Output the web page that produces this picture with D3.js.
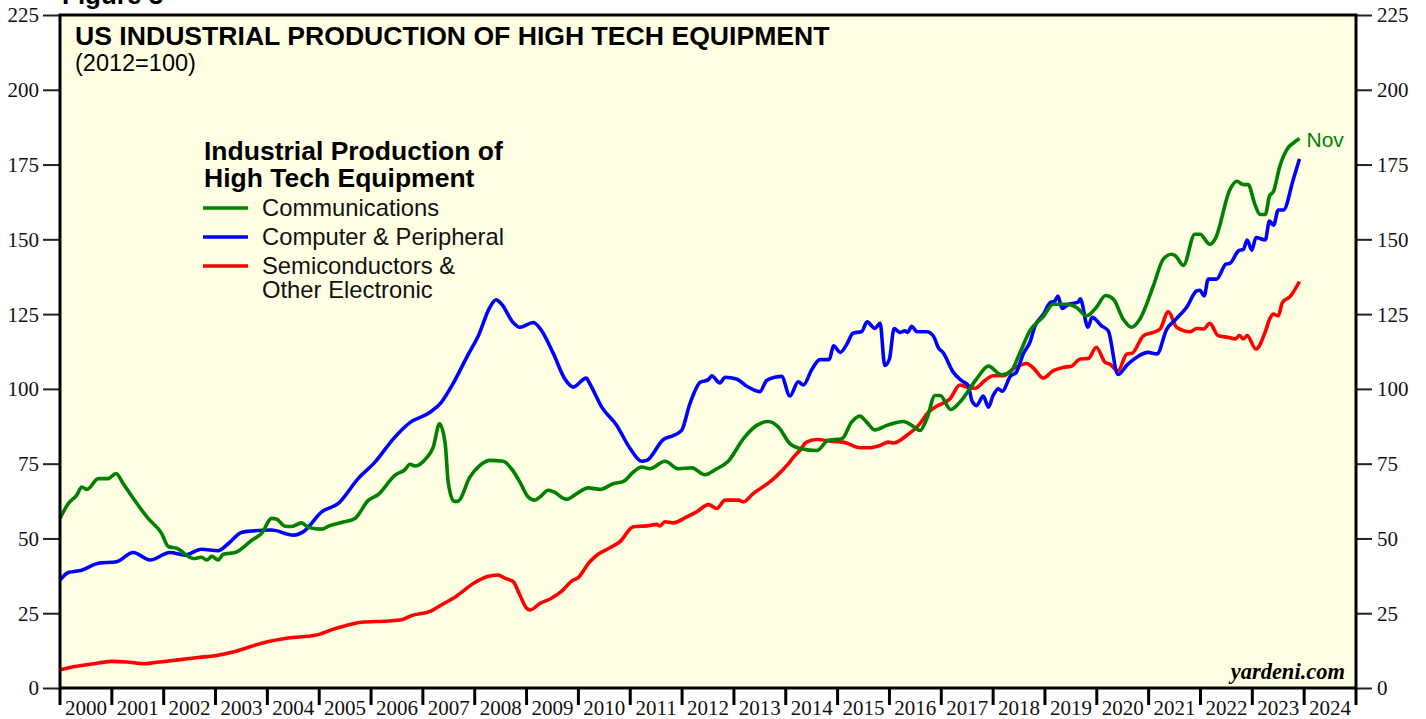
<!DOCTYPE html>
<html>
<head>
<meta charset="utf-8">
<script src="https://cdn.jsdelivr.net/npm/d3@7"></script>
<style>
  html, body { margin: 0; padding: 0; background: #fff; }
  svg { display: block; }
</style>
</head>
<body>
<div id="chart"></div>
<script>
// Values: [year, index 2012=100]
const communications = [
  [2000.00,56.7],[2000.16,61.7],[2000.32,64.4],[2000.42,67.2],[2000.52,66.4],[2000.74,70],[2000.93,70],
  [2001.08,71.7],[2001.22,68.3],[2001.35,65],[2001.70,56.7],[2001.96,51.7],[2002.09,47.3],[2002.25,46.7],
  [2002.57,43.3],[2002.73,43.7],[2002.83,42.8],[2002.93,44],[2003.05,42.8],[2003.15,44.7],[2003.38,45.3],
  [2003.70,49.4],[2003.89,51.7],[2004.08,56.7],[2004.18,56.4],[2004.34,54.1],[2004.47,54],[2004.66,55.2],
  [2004.79,53.7],[2005.05,53.1],[2005.18,54.1],[2005.43,55.3],[2005.69,56.7],[2005.95,62.8],[2006.14,64.7],
  [2006.46,71.1],[2006.66,73.1],[2006.75,74.8],[2006.85,74.2],[2007.07,76.9],[2007.20,80.5],[2007.32,88.3],
  [2007.43,81.7],[2007.49,68.6],[2007.60,62.4],[2007.67,62.4],[2007.91,70.6],[2008.10,74.4],[2008.29,76.1],
  [2008.55,75.8],[2008.71,73.3],[2008.87,68.9],[2009.03,63.9],[2009.16,62.8],[2009.26,63.9],[2009.42,66.1],
  [2009.52,65.6],[2009.77,63.1],[2009.97,65],[2010.19,66.9],[2010.42,66.4],[2010.67,68.3],[2010.87,69.1],
  [2011.06,72.2],[2011.22,73.9],[2011.38,73.3],[2011.67,75.8],[2011.93,73.3],[2012.19,73.6],[2012.44,71.3],
  [2012.67,73.3],[2012.89,75.8],[2013.18,83.3],[2013.44,87.8],[2013.66,89.1],[2013.86,87.2],[2014.08,81.7],
  [2014.30,80],[2014.60,79.4],[2014.82,82.8],[2015.08,83.3],[2015.27,88.9],[2015.43,90.9],[2015.56,88.9],
  [2015.72,86.3],[2015.95,87.8],[2016.27,89.1],[2016.43,87.8],[2016.59,86.1],[2016.72,90],[2016.88,97.8],
  [2016.98,97.8],[2017.18,93.1],[2017.36,95.6],[2017.68,103.3],[2017.91,107.6],[2018.16,104.7],[2018.33,105.6],
  [2018.52,112.2],[2018.71,119.5],[2018.97,124.2],[2019.16,128.3],[2019.42,128.3],[2019.61,127.2],[2019.80,124.4],
  [2019.99,127.2],[2020.17,131.2],[2020.32,130],[2020.51,123.3],[2020.67,120.6],[2020.83,123.3],[2021.09,134.4],
  [2021.28,143.3],[2021.44,145],[2021.52,144.4],[2021.67,141.3],[2021.89,151.7],[2021.99,151.7],[2022.18,148.3],
  [2022.28,150],[2022.57,166.7],[2022.70,169.4],[2022.83,168.3],[2022.92,168.3],[2023.05,161.7],[2023.15,158.3],
  [2023.25,158.3],[2023.33,164.4],[2023.41,166.1],[2023.53,174.4],[2023.69,180.6],[2023.79,182.2],[2023.91,183.7]
];

const computers = [
  [2000.00,36.1],[2000.16,38.6],[2000.42,39.4],[2000.74,41.7],[2001.09,42.2],[2001.41,45.3],[2001.74,42.8],
  [2002.12,45.3],[2002.41,44.4],[2002.73,46.4],[2003.05,45.9],[2003.25,48.3],[2003.50,52],[2003.70,52.5],
  [2004.08,52.8],[2004.50,51.1],[2004.69,52.2],[2005.05,58.9],[2005.37,61.7],[2005.75,70],[2006.08,75.6],
  [2006.43,83.3],[2006.75,88.7],[2007.14,92.2],[2007.36,95.6],[2007.56,101.1],[2007.88,111.7],[2008.07,117.8],
  [2008.29,127.2],[2008.41,129.8],[2008.52,128.3],[2008.74,122.2],[2008.87,120.6],[2009.13,122.2],[2009.26,120.2],
  [2009.52,111.7],[2009.74,103.3],[2009.90,100.6],[2010.15,103.6],[2010.22,101.7],[2010.45,93.9],[2010.74,87.8],
  [2011.00,80],[2011.22,75.8],[2011.32,76.1],[2011.64,83.1],[2011.83,84.4],[2011.99,86.1],[2012.15,95],
  [2012.35,102.2],[2012.51,103.1],[2012.57,104.4],[2012.73,102],[2012.83,103.9],[2013.05,103.3],[2013.25,100.9],
  [2013.50,99.1],[2013.63,102.8],[2013.79,103.9],[2013.92,104.2],[2014.08,97.6],[2014.24,102.4],[2014.34,101.3],
  [2014.50,106.4],[2014.66,109.8],[2014.84,109.8],[2014.92,114.4],[2015.05,112.2],[2015.18,115],[2015.30,118.7],
  [2015.46,119.1],[2015.57,122.4],[2015.72,120.2],[2015.82,122],[2015.91,107.8],[2016.00,110],[2016.09,120.2],
  [2016.20,118.9],[2016.30,119.4],[2016.35,118.9],[2016.43,120.9],[2016.53,119.1],[2016.72,119.1],[2016.85,117.6],
  [2016.94,113.9],[2017.04,112],[2017.23,105.6],[2017.39,102.8],[2017.52,101.1],[2017.59,96.1],[2017.68,94.4],
  [2017.81,97.6],[2017.91,93.9],[2018.00,97.8],[2018.10,100],[2018.18,99.2],[2018.33,104.2],[2018.45,105.6],
  [2018.58,111.7],[2018.71,115.6],[2018.81,121.1],[2018.97,125],[2019.10,128.8],[2019.19,129.4],[2019.25,131],
  [2019.33,126.9],[2019.46,128.3],[2019.64,129],[2019.68,130.1],[2019.83,120.6],[2019.91,123.9],[2020.09,121.1],
  [2020.22,119.4],[2020.41,104.8],[2020.59,108.1],[2020.77,110.6],[2020.99,112.2],[2021.16,111.7],[2021.35,120],
  [2021.51,123],[2021.73,127.2],[2021.93,132.8],[2021.99,133],[2022.07,131.1],[2022.15,136.7],[2022.31,136.7],
  [2022.49,141.7],[2022.57,142],[2022.73,146.1],[2022.83,146.7],[2022.90,149.8],[2022.99,146.4],[2023.07,150.6],
  [2023.25,149.8],[2023.33,156.1],[2023.41,154.7],[2023.50,159.8],[2023.60,159.8],[2023.79,170],[2023.91,176.9]
];

const semiconductors = [
  [2000.00,6.1],[2000.29,7.2],[2000.61,8],[2001.00,8.9],[2001.29,8.7],[2001.61,8.1],[2001.87,8.6],
  [2002.28,9.4],[2002.67,10.2],[2002.99,10.8],[2003.38,12.2],[2003.89,15],[2004.40,16.7],[2004.92,17.6],
  [2005.30,19.8],[2005.82,22],[2006.33,22.4],[2006.59,22.8],[2006.78,24.2],[2007.14,25.6],[2007.38,28],
  [2007.64,30.6],[2007.98,35],[2008.23,37.2],[2008.45,37.8],[2008.58,36.7],[2008.74,35.6],[2008.87,31.1],
  [2009.00,26.7],[2009.07,26.1],[2009.26,28.3],[2009.48,30],[2009.68,32.4],[2009.90,36.1],[2009.98,36.7],
  [2010.22,42.2],[2010.38,44.7],[2010.61,46.9],[2010.80,48.9],[2011.06,53.9],[2011.32,54.2],[2011.51,54.7],
  [2011.57,54.2],[2011.67,55.6],[2011.83,55.2],[2012.09,57.2],[2012.28,58.9],[2012.51,61.3],[2012.67,60],
  [2012.83,62.8],[2013.09,62.8],[2013.18,62.2],[2013.37,65],[2013.73,69.4],[2013.89,72],[2014.08,75.6],
  [2014.15,77.2],[2014.27,79.4],[2014.40,82.2],[2014.60,83.1],[2014.92,82.4],[2015.11,82.2],[2015.43,80.3],
  [2015.59,80.3],[2015.82,81.1],[2015.98,82.2],[2016.08,81.9],[2016.33,84.4],[2016.56,87.8],[2016.75,92.2],
  [2016.91,94.2],[2017.17,96.7],[2017.36,101.3],[2017.49,100.6],[2017.65,100.2],[2017.84,102.8],[2018.00,104.4],
  [2018.20,104.4],[2018.39,106.7],[2018.65,108.5],[2018.78,106.9],[2018.97,103.6],[2019.16,106.1],[2019.35,107.2],
  [2019.51,107.6],[2019.68,110],[2019.84,110.2],[2019.99,113.9],[2020.16,108.9],[2020.25,108.3],[2020.41,106.1],
  [2020.58,111.7],[2020.68,111.9],[2020.90,117.8],[2021.09,118.9],[2021.22,120],[2021.38,125.8],[2021.54,120.6],
  [2021.80,119.1],[2021.93,120.2],[2022.06,120],[2022.18,121.9],[2022.34,117.8],[2022.54,117.2],[2022.67,116.7],
  [2022.75,117.8],[2022.83,116.7],[2022.90,117.8],[2023.07,113.3],[2023.25,119.1],[2023.34,123.6],[2023.41,125],
  [2023.50,124.4],[2023.58,128.9],[2023.73,130.9],[2023.91,135.9]
];

const yTicks = [0, 25, 50, 75, 100, 125, 150, 175, 200, 225];
const years = [2000, 2001, 2002, 2003, 2004, 2005, 2006, 2007, 2008, 2009, 2010, 2011, 2012,
  2013, 2014, 2015, 2016, 2017, 2018, 2019, 2020, 2021, 2022, 2023, 2024];
const seriesNames = ['Communications', 'Computer & Peripheral', 'Semiconductors &|Other Electronic'];
const seriesColors = ['#008000', '#0000ff', '#ff0000'];

const W = 1426, H = 719;
const plotLeft = 60, plotRight = 1356, plotTop = 15, plotBottom = 688;
const SANS = '"Liberation Sans", Arial, sans-serif';
const SERIF = '"Liberation Serif", "Times New Roman", serif';

const svg = d3.select('#chart').append('svg')
  .attr('width', W).attr('height', H);

const x = d3.scaleLinear().domain([2000, 2025]).range([plotLeft, plotRight]);
const y = d3.scaleLinear().domain([0, 225]).range([plotBottom, plotTop]);

// cut-off figure caption above the frame
svg.append('text')
  .attr('x', 62).attr('y', 4)
  .attr('font-family', SANS).attr('font-weight', 'bold').attr('font-size', 26)
  .text('Figure 3');

// plot background
svg.append('rect')
  .attr('x', plotLeft).attr('y', plotTop)
  .attr('width', plotRight - plotLeft).attr('height', plotBottom - plotTop)
  .attr('fill', '#ffffe3');

// left / right value axes
const yLeft = d3.axisLeft(y).tickValues(yTicks).tickSize(17).tickPadding(4);
const yRight = d3.axisRight(y).tickValues(yTicks).tickSize(16).tickPadding(5);

[[yLeft, plotLeft], [yRight, plotRight]].forEach(([ax, pos]) => {
  const g = svg.append('g').attr('transform', `translate(${pos},0)`).call(ax);
  g.select('.domain').remove();
  g.selectAll('line').attr('stroke', '#222').attr('stroke-width', 2);
  g.selectAll('text')
    .attr('font-family', SERIF).attr('font-size', 21).attr('fill', '#111')
    .attr('dy', '0.33em');
});

// year ticks along the bottom, labels centered between ticks
const xg = svg.append('g');
xg.selectAll('line').data(years.concat([2025])).enter().append('line')
  .attr('x1', d => x(d)).attr('x2', d => x(d))
  .attr('y1', plotBottom).attr('y2', plotBottom + 17)
  .attr('stroke', '#000').attr('stroke-width', 3);
xg.selectAll('text').data(years).enter().append('text')
  .attr('x', d => x(d + 0.5)).attr('y', 715)
  .attr('text-anchor', 'middle')
  .attr('font-family', SERIF).attr('font-size', 21).attr('fill', '#111')
  .text(d => d);

// series lines
const line = d3.line()
  .x(d => x(d[0]))
  .y(d => y(d[1]))
  .curve(d3.curveMonotoneX);

const plot = svg.append('g');
[semiconductors, computers, communications].forEach((s, i) => {
  plot.append('path')
    .datum(s)
    .attr('fill', 'none')
    .attr('stroke', seriesColors[2 - i])
    .attr('stroke-width', 3.6)
    .attr('stroke-linejoin', 'round')
    .attr('d', line);
});

// frame
svg.append('rect')
  .attr('x', plotLeft).attr('y', plotTop)
  .attr('width', plotRight - plotLeft).attr('height', plotBottom - plotTop)
  .attr('fill', 'none').attr('stroke', '#000').attr('stroke-width', 3);

// titles
svg.append('text')
  .attr('x', 75).attr('y', 45)
  .attr('font-family', SANS).attr('font-weight', 'bold').attr('font-size', 26.6)
  .text('US INDUSTRIAL PRODUCTION OF HIGH TECH EQUIPMENT');
svg.append('text')
  .attr('x', 75).attr('y', 71)
  .attr('font-family', SANS).attr('font-size', 23.5)
  .text('(2012=100)');

// legend
const legend = svg.append('g').attr('class', 'legend');
legend.selectAll('text.head')
  .data(['Industrial Production of', 'High Tech Equipment'])
  .enter().append('text')
  .attr('class', 'head')
  .attr('x', 204).attr('y', (d, i) => 160 + i * 27)
  .attr('font-family', SANS).attr('font-weight', 'bold').attr('font-size', 26.5)
  .text(d => d);

legend.selectAll('g.item')
  .data(seriesNames)
  .enter().append('g')
  .attr('class', 'item')
  .each(function(d, i) {
    const g = d3.select(this);
    const ly = 208 + i * 29;
    g.append('line')
      .attr('x1', 203).attr('x2', 248)
      .attr('y1', ly).attr('y2', ly)
      .attr('stroke', seriesColors[i]).attr('stroke-width', 3.6);
    d.split('|').forEach((t, j) => {
      g.append('text')
        .attr('x', 262).attr('y', ly + 8 + j * 24)
        .attr('font-family', SANS).attr('font-size', 23.8).attr('fill', '#111')
        .text(t);
    });
  });

// last observation label
const last = communications[communications.length - 1];
svg.append('text')
  .attr('x', x(last[0]) + 7).attr('y', y(last[1]) + 8)
  .attr('font-family', SANS).attr('font-size', 21).attr('fill', '#008000')
  .text('Nov');

// source
svg.append('text')
  .attr('x', 1345).attr('y', 679)
  .attr('text-anchor', 'end')
  .attr('font-family', SERIF).attr('font-weight', 'bold').attr('font-style', 'italic')
  .attr('font-size', 22.5)
  .text('yardeni.com');
</script>
</body>
</html>
